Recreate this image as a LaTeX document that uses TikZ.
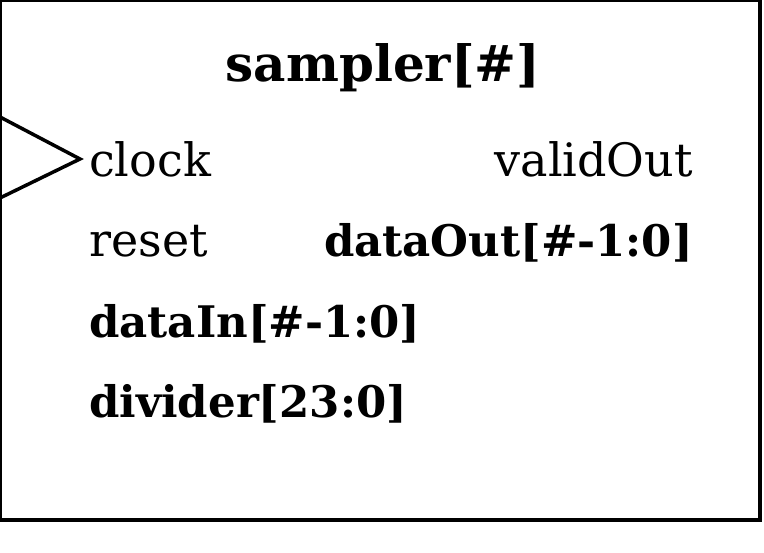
\documentclass[tikz,border=0pt]{standalone}
\usepackage{fontspec}
\setmainfont{DejaVu Serif}
\begin{document}
\begin{tikzpicture}[x=1pt,y=1pt,
  lbl/.style={inner sep=0pt, font=\fontsize{46}{52}\selectfont},
  blbl/.style={inner sep=0pt, font=\fontsize{43.5}{48}\selectfont\bfseries},
  ttl/.style={inner sep=0pt, font=\fontsize{50}{56}\selectfont\bfseries},
  frame/.style={draw=black, line width=4pt},
  clk/.style={draw=black, line width=3.5pt, line join=miter}]
\useasboundingbox (0,0) rectangle (764,553);
\draw[frame] (0,553) rectangle (760,33);
\coordinate (ct) at (0,436);
\coordinate (cm) at (80,394);
\coordinate (cb) at (0,355);
\draw[clk] (ct) -- (cm) -- (cb);
\node[ttl, anchor=base] (title) at (383,471) {sampler[\#]};
\node[lbl, anchor=base west] (clock) at (89,376) {clock};
\node[lbl, anchor=base west] (reset) at (89,296) {reset};
\node[blbl, anchor=base west] (datain) at (89,215) {dataIn[\#-1:0]};
\node[blbl, anchor=base west] (divider) at (89,135) {divider[23:0]};
\node[lbl, anchor=base east] (validout) at (693,376) {validOut};
\node[blbl, anchor=base east] (dataout) at (693,296) {dataOut[\#-1:0]};
\end{tikzpicture}
\end{document}
